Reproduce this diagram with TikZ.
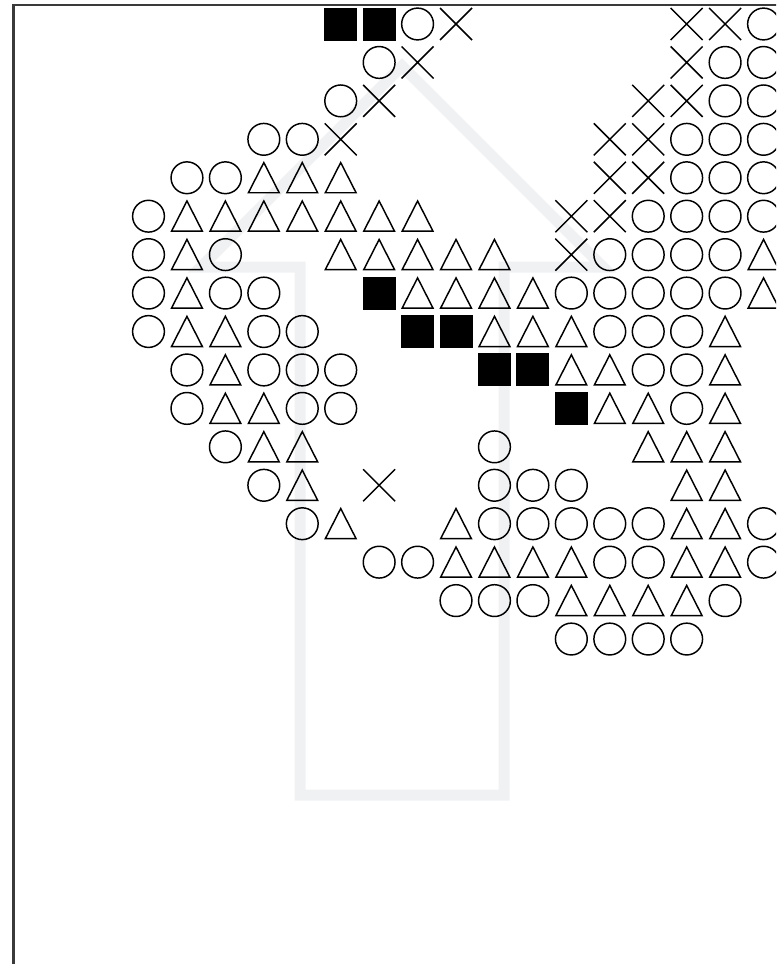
\documentclass[tikz,border=0pt]{standalone}
\usepackage{tikz}
\definecolor{ghost}{RGB}{240,241,243}
\definecolor{framegray}{RGB}{58,58,58}

\begin{document}
\begin{tikzpicture}[
  x=0.75pt, y=-0.75pt,
  glyph/.style={draw=black,line width=1.1pt},
  pics/symo/.style={code={\draw[glyph] (0,0) circle[radius=15.9];}},
  pics/symt/.style={code={\draw[glyph,line join=miter] (-15.4,15) -- (0,-15.2) -- (15.4,15) -- cycle;}},
  pics/symx/.style={code={\draw[glyph] (-16,-16) -- (16,16) (-16,16) -- (16,-16);}},
  pics/symb/.style={code={\fill[black] (-16.5,-16.5) rectangle (16.5,16.5);}},
  pics/symn/.style={code={}},
  house/.style={draw=ghost,line width=8.25pt,line join=miter}
]
  \useasboundingbox (0,0) rectangle (776,964);
  \clip (0,0) rectangle (776,964);
  \draw[framegray,line width=1.9pt] (13.5,5) rectangle (820,1000);
  \draw[house] (300,795) -- (300,267) -- (201,267) -- (402,66) -- (603,267)
    -- (504,267) -- (504,795) -- cycle;
  \foreach \row [count=\r from 0] in {
    {n,n,n,n,n,b,b,o,x,n,n,n,n,n,x,x,o},
    {n,n,n,n,n,n,o,x,n,n,n,n,n,n,x,o,o},
    {n,n,n,n,n,o,x,n,n,n,n,n,n,x,x,o,o},
    {n,n,n,o,o,x,n,n,n,n,n,n,x,x,o,o,o},
    {n,o,o,t,t,t,n,n,n,n,n,n,x,x,o,o,o},
    {o,t,t,t,t,t,t,t,n,n,n,x,x,o,o,o,o},
    {o,t,o,n,n,t,t,t,t,t,n,x,o,o,o,o,t},
    {o,t,o,o,n,n,b,t,t,t,t,o,o,o,o,o,t},
    {o,t,t,o,o,n,n,b,b,t,t,t,o,o,o,t,n},
    {n,o,t,o,o,o,n,n,n,b,b,t,t,o,o,t,n},
    {n,o,t,t,o,o,n,n,n,n,n,b,t,t,o,t,n},
    {n,n,o,t,t,n,n,n,n,o,n,n,n,t,t,t,n},
    {n,n,n,o,t,n,x,n,n,o,o,o,n,n,t,t,n},
    {n,n,n,n,o,t,n,n,t,o,o,o,o,o,t,t,o},
    {n,n,n,n,n,n,o,o,t,t,t,t,o,o,t,t,o},
    {n,n,n,n,n,n,n,n,o,o,o,t,t,t,t,o,n},
    {n,n,n,n,n,n,n,n,n,n,n,o,o,o,o,n,n}}{
    \foreach \s [count=\c from 0] in \row
      \pic at ({148.5+38.44*\c},{24+38.44*\r}) {sym\s};
  }
\end{tikzpicture}
\end{document}
